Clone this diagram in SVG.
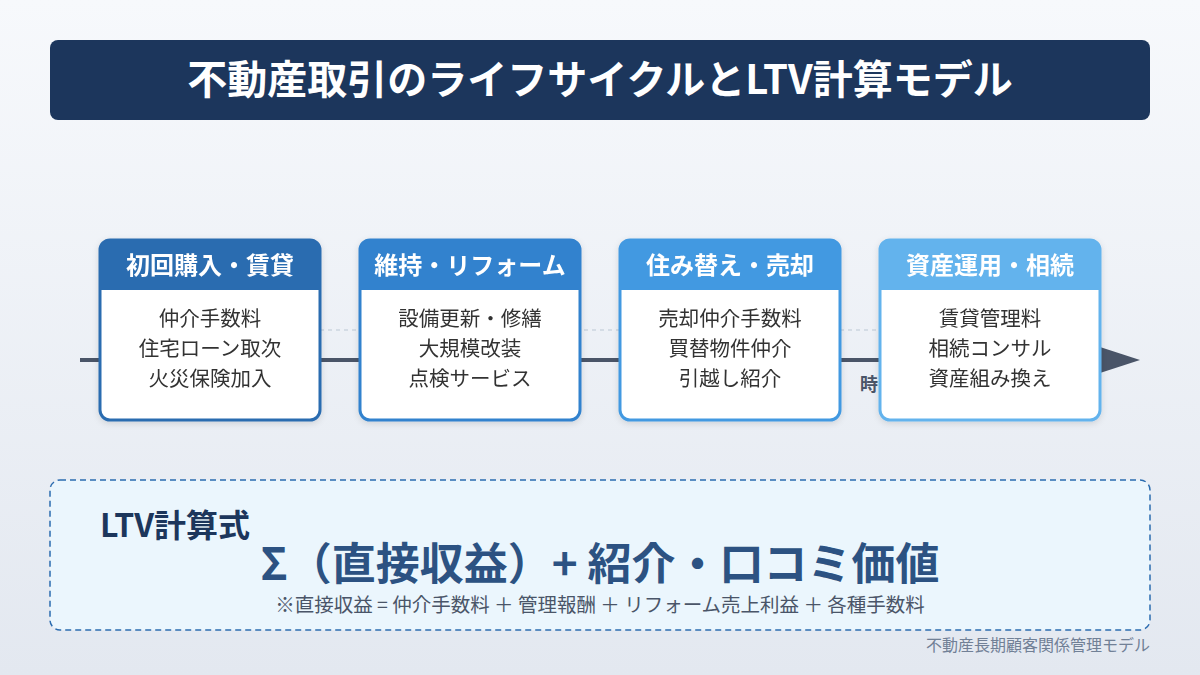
<svg xmlns="http://www.w3.org/2000/svg" width="1200" height="675" viewBox="0 0 1200 675">
<defs>
<linearGradient id="bg" x1="0" y1="0" x2="0" y2="1"><stop offset="0" stop-color="#f7f9fc"/><stop offset="1" stop-color="#e3e8f0"/></linearGradient>
<filter id="sh" x="-10%" y="-10%" width="120%" height="130%"><feDropShadow dx="0" dy="2" stdDeviation="3" flood-color="#000" flood-opacity="0.12"/></filter>
</defs>
<style>
text{font-family:"Noto Sans CJK JP","Noto Sans",sans-serif;}
.hd{font-size:24px;font-weight:bold;fill:#fff;text-anchor:middle}
.it{font-size:20.5px;fill:#333;text-anchor:middle}
.box{fill:#fff;stroke-width:3}
</style>
<rect width="1200" height="675" fill="url(#bg)"/>
<rect x="50" y="40" width="1100" height="80" rx="8" fill="#1c365c"/>
<text x="600" y="94" font-size="40" font-weight="bold" fill="#fff" text-anchor="middle">不動産取引のライフサイクルとLTV計算モデル</text>
<g id="connectors">
<line x1="80" y1="360" x2="1102" y2="360" stroke="#4a5568" stroke-width="4"/>
<polygon points="1100,347 1140,360 1100,373" fill="#4a5568"/>
<line x1="320" y1="330" x2="880" y2="330" stroke="#cbd5e0" stroke-width="1.5" stroke-dasharray="4,4"/>
<text x="860" y="391" font-size="18" font-weight="bold" fill="#4a5568">時間</text>
</g>
<g id="n1" filter="url(#sh)">
<rect class="box" x="100" y="240" width="220" height="180" rx="10" stroke="#2b6cb0"/>
<path d="M100,290 V250 a10,10 0 0 1 10,-10 H310 a10,10 0 0 1 10,10 V290 Z" fill="#2b6cb0"/>
<text class="hd" x="210" y="274">初回購入・賃貸</text>
<text class="it" x="210" y="326">仲介手数料</text><text class="it" x="210" y="356">住宅ローン取次</text><text class="it" x="210" y="386">火災保険加入</text>
</g>
<g id="n2" filter="url(#sh)">
<rect class="box" x="360" y="240" width="220" height="180" rx="10" stroke="#3182ce"/>
<path d="M360,290 V250 a10,10 0 0 1 10,-10 H570 a10,10 0 0 1 10,10 V290 Z" fill="#3182ce"/>
<text class="hd" x="470" y="274">維持・リフォーム</text>
<text class="it" x="470" y="326">設備更新・修繕</text><text class="it" x="470" y="356">大規模改装</text><text class="it" x="470" y="386">点検サービス</text>
</g>
<g id="n3" filter="url(#sh)">
<rect class="box" x="620" y="240" width="220" height="180" rx="10" stroke="#4299e1"/>
<path d="M620,290 V250 a10,10 0 0 1 10,-10 H830 a10,10 0 0 1 10,10 V290 Z" fill="#4299e1"/>
<text class="hd" x="730" y="274">住み替え・売却</text>
<text class="it" x="730" y="326">売却仲介手数料</text><text class="it" x="730" y="356">買替物件仲介</text><text class="it" x="730" y="386">引越し紹介</text>
</g>
<g id="n4" filter="url(#sh)">
<rect class="box" x="880" y="240" width="220" height="180" rx="10" stroke="#63b3ed"/>
<path d="M880,290 V250 a10,10 0 0 1 10,-10 H1090 a10,10 0 0 1 10,10 V290 Z" fill="#63b3ed"/>
<text class="hd" x="990" y="274">資産運用・相続</text>
<text class="it" x="990" y="326">賃貸管理料</text><text class="it" x="990" y="356">相続コンサル</text><text class="it" x="990" y="386">資産組み換え</text>
</g>
<g id="ltv">
<rect x="50" y="480" width="1100" height="150" rx="10" fill="#ebf6fd" stroke="#2b6cb0" stroke-width="1.5" stroke-dasharray="6,4"/>
<text x="100" y="537" font-size="32" font-weight="bold" fill="#1c365c">LTV計算式</text>
<text x="600" y="580" font-size="44" font-weight="bold" fill="#2c5282" text-anchor="middle">Σ（直接収益）+ 紹介・口コミ価値</text>
<text x="600" y="612" font-size="19.5" fill="#4a5568" text-anchor="middle">※直接収益 = 仲介手数料 ＋ 管理報酬 ＋ リフォーム売上利益 ＋ 各種手数料</text>
</g>
<text x="1150" y="651" font-size="16" fill="#718096" text-anchor="end">不動産長期顧客関係管理モデル</text>
</svg>
